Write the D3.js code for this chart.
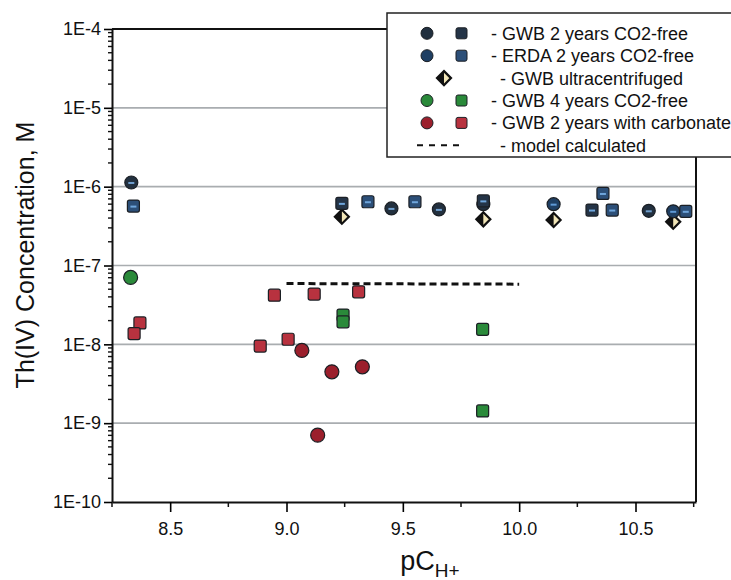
<!DOCTYPE html>
<html>
<head>
<meta charset="utf-8">
<script src="https://cdn.jsdelivr.net/npm/d3@7"></script>
<style>
  body { margin: 0; background: #fff; }
  svg { font-family: "Liberation Sans", Arial, sans-serif; }
</style>
</head>
<body>
<script>
// data: [pCH+, concentration M]
var gwb2Circles = [[8.333, 1.13e-6], [9.451, 5.3e-7], [9.655, 5.15e-7], [9.846, 6.0e-7], [10.557, 4.94e-7]]
var gwb2Squares = [[9.238, 6.14e-7], [9.846, 6.6e-7], [10.313, 5.05e-7]]
var erdaCircles = [[10.148, 6.0e-7], [10.662, 4.87e-7]]
var erdaSquares = [[8.342, 5.67e-7], [9.35, 6.44e-7], [9.552, 6.44e-7], [10.36, 8.2e-7], [10.40, 5.05e-7], [10.716, 4.87e-7]]
var ultraDiamonds = [[9.238, 4.15e-7], [9.846, 3.85e-7], [10.148, 3.77e-7], [10.662, 3.59e-7]]
var gwb4Circles = [[8.33, 7.06e-8]]
var gwb4Squares = [[9.243, 2.35e-8], [9.243, 1.93e-8], [9.843, 1.55e-8], [9.843, 1.43e-9]]
var carbCircles = [[9.066, 8.36e-9], [9.195, 4.48e-9], [9.326, 5.19e-9], [9.134, 7.05e-10]]
var carbSquares = [[8.37, 1.87e-8], [8.345, 1.37e-8], [8.948, 4.2e-8], [9.119, 4.34e-8], [9.31, 4.64e-8], [8.887, 9.5e-9], [9.007, 1.16e-8]]
var modelLine = [[9.0, 5.9e-8], [10.0, 5.8e-8]]

var xTicks = [8.5, 9.0, 9.5, 10.0, 10.5]
var yTicks = [1e-4, 1e-5, 1e-6, 1e-7, 1e-8, 1e-9, 1e-10]
var yTickLabels = ['1E-4', '1E-5', '1E-6', '1E-7', '1E-8', '1E-9', '1E-10']
var legendLabels = ['- GWB 2 years CO2-free', '- ERDA 2 years CO2-free', '- GWB ultracentrifuged',
  '- GWB 4 years CO2-free', '- GWB 2 years with carbonate', '-  model calculated']

var W = 731, H = 580
var pl = 112, pr = 696, pt = 29, pb = 502

var svg = d3.select('body').append('svg').attr('width', W).attr('height', H)

var x = d3.scaleLinear().domain([8.25, 10.76]).range([pl, pr])
var y = d3.scaleLog().domain([1e-10, 1e-4]).range([pb, pt])

// grid lines
svg.append('g').selectAll('line').data(yTicks.slice(1, 6)).enter().append('line')
  .attr('x1', pl).attr('x2', pr)
  .attr('y1', function(d){return y(d)}).attr('y2', function(d){return y(d)})
  .attr('stroke', '#a9adb0').attr('stroke-width', 1.6)

// frame
svg.append('line').attr('x1', pl).attr('x2', pr).attr('y1', pt).attr('y2', pt)
  .attr('stroke', '#111').attr('stroke-width', 2)
svg.append('line').attr('x1', pr).attr('x2', pr).attr('y1', pt).attr('y2', pb)
  .attr('stroke', '#111').attr('stroke-width', 2)

// x axis
var minorX = [8.25, 8.75, 9.25, 9.75, 10.25, 10.75]
var xAxis = svg.append('g').attr('transform', 'translate(0,' + pb + ')')
  .call(d3.axisBottom(x).tickValues(xTicks).tickFormat(d3.format('.1f')).tickSize(10).tickSizeOuter(0))
xAxis.select('.domain').attr('stroke', '#111').attr('stroke-width', 2)
xAxis.selectAll('.tick line').attr('stroke-width', 1.6)
xAxis.selectAll('text').attr('font-size', 18).attr('dy', '1.1em').attr('fill', '#111')
xAxis.append('g').selectAll('line').data(minorX).enter().append('line')
  .attr('x1', function(d){return x(d)}).attr('x2', function(d){return x(d)})
  .attr('y1', 0).attr('y2', 5).attr('stroke', '#111').attr('stroke-width', 1.5)

// y axis
var yAxis = svg.append('g').attr('transform', 'translate(' + pl + ',0)')
  .call(d3.axisLeft(y).tickValues(yTicks).tickFormat(function(d, i){return yTickLabels[i]}).tickSize(8).tickSizeOuter(0))
yAxis.select('.domain').attr('stroke', '#111').attr('stroke-width', 2)
yAxis.selectAll('.tick line').attr('stroke-width', 1.6)
yAxis.selectAll('text').attr('font-size', 18).attr('fill', '#111')
var minorY = []
for (var e = -10; e < -4; e++) for (var m = 2; m < 10; m++) minorY.push(m * Math.pow(10, e))
yAxis.append('g').selectAll('line').data(minorY).enter().append('line')
  .attr('x1', -4).attr('x2', 0)
  .attr('y1', function(d){return y(d)}).attr('y2', function(d){return y(d)})
  .attr('stroke', '#111').attr('stroke-width', 1.4)

// axis titles
svg.append('text').attr('transform', 'translate(34,255) rotate(-90)')
  .attr('text-anchor', 'middle').attr('font-size', 25).attr('fill', '#111')
  .text('Th(IV) Concentration, M')
var xt = svg.append('text').attr('x', (pl + pr) / 2 + 26).attr('y', 570)
  .attr('text-anchor', 'middle').attr('font-size', 27).attr('fill', '#111')
xt.append('tspan').text('pC')
xt.append('tspan').attr('font-size', 19).attr('dy', 7).text('H+')

// marker helpers
var circle = function(g, d, fill, r) {
  g.append('circle').attr('cx', x(d[0])).attr('cy', y(d[1])).attr('r', r || 6.5)
    .attr('fill', fill).attr('stroke', '#1b1f24').attr('stroke-width', 1.2)
}
var square = function(g, d, fill) {
  g.append('rect').attr('x', x(d[0]) - 6).attr('y', y(d[1]) - 6).attr('width', 12).attr('height', 12)
    .attr('rx', 2).attr('fill', fill).attr('stroke', '#1b1f24').attr('stroke-width', 1.2)
}
var dash = function(g, d, col) {
  g.append('rect').attr('x', x(d[0]) - 3).attr('y', y(d[1]) - 0.5).attr('width', 6).attr('height', 2)
    .attr('fill', col)
}
var diamond = function(g, cx, cy) {
  var s = 7
  g.append('path').attr('d', 'M' + cx + ',' + (cy - s) + 'L' + (cx + s) + ',' + cy + 'L' + cx + ',' + (cy + s) + 'L' + (cx - s) + ',' + cy + 'Z')
    .attr('fill', '#f2e6b8').attr('stroke', '#111').attr('stroke-width', 2.2)
  g.append('path').attr('d', 'M' + cx + ',' + (cy - s) + 'L' + (cx - s) + ',' + cy + 'L' + cx + ',' + (cy + s) + 'Z')
    .attr('fill', '#111')
}

var pts = svg.append('g')

// model line
pts.append('path').datum(modelLine)
  .attr('d', d3.line().x(function(d){return x(d[0])}).y(function(d){return y(d[1])}))
  .attr('fill', 'none').attr('stroke', '#111').attr('stroke-width', 3).attr('stroke-dasharray', '7,4')

carbSquares.forEach(function(d){square(pts, d, '#b8323f')})
carbCircles.forEach(function(d){circle(pts, d, '#9b1f2c', 7)})
gwb4Squares.forEach(function(d){square(pts, d, '#2a8a3a')})
gwb4Circles.forEach(function(d){circle(pts, d, '#2a8a3a', 7)})
ultraDiamonds.forEach(function(d){diamond(pts, x(d[0]), y(d[1]))})
gwb2Circles.forEach(function(d){circle(pts, d, '#22303f'); dash(pts, d, '#6f9fcf')})
erdaCircles.forEach(function(d){circle(pts, d, '#1f3f63'); dash(pts, d, '#5f9ad6')})
gwb2Squares.forEach(function(d){square(pts, d, '#243447'); dash(pts, d, '#6fa6dc')})
erdaSquares.forEach(function(d){square(pts, d, '#2c4f78'); dash(pts, d, '#6fa6dc')})

// legend
var lg = svg.append('g')
lg.append('rect').attr('x', 387).attr('y', 13).attr('width', 360).attr('height', 144)
  .attr('fill', '#fff').attr('stroke', '#222').attr('stroke-width', 1.5)
var rowY = function(i){return 33.3 + i * 22.4}
var legMarks = [
  {c: '#22303f', s: '#243447'},
  {c: '#1f3f63', s: '#2c4f78'},
  null,
  {c: '#2a8a3a', s: '#2a8a3a'},
  {c: '#9b1f2c', s: '#b8323f'}
]
legMarks.forEach(function(m, i) {
  if (!m) return
  lg.append('circle').attr('cx', 427).attr('cy', rowY(i)).attr('r', 6).attr('fill', m.c).attr('stroke', '#1b1f24').attr('stroke-width', 1)
  lg.append('rect').attr('x', 456).attr('y', rowY(i) - 5.5).attr('width', 11).attr('height', 11).attr('rx', 2)
    .attr('fill', m.s).attr('stroke', '#1b1f24').attr('stroke-width', 1)
})
diamond(lg, 444, rowY(2))
lg.append('line').attr('x1', 417).attr('x2', 462).attr('y1', rowY(5)).attr('y2', rowY(5))
  .attr('stroke', '#111').attr('stroke-width', 2).attr('stroke-dasharray', '6,6')
lg.selectAll('text').data(legendLabels).enter().append('text')
  .attr('x', function(d, i){return i === 2 || i === 5 ? 500 : 491})
  .attr('y', function(d, i){return rowY(i) + 6.5})
  .attr('font-size', 18).attr('fill', '#111')
  .text(function(d){return d})
</script>
</body>
</html>
